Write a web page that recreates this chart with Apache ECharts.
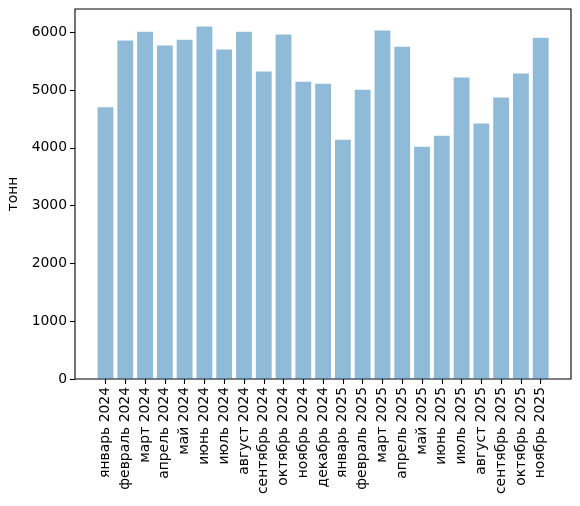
<!DOCTYPE html>
<html>
<head>
<meta charset="utf-8">
<script src="https://cdn.jsdelivr.net/npm/echarts@6/dist/echarts.min.js"></script>
<style>
  html, body { margin: 0; padding: 0; background: #fff; }
  #chart { width: 580px; height: 506px; }
</style>
</head>
<body>
<div id="chart"></div>
<script>
// месяцы
var months = [
    'январь 2024', 'февраль 2024', 'март 2024', 'апрель 2024', 'май 2024', 'июнь 2024',
    'июль 2024', 'август 2024', 'сентябрь 2024', 'октябрь 2024', 'ноябрь 2024', 'декабрь 2024',
    'январь 2025', 'февраль 2025', 'март 2025', 'апрель 2025', 'май 2025', 'июнь 2025',
    'июль 2025', 'август 2025', 'сентябрь 2025', 'октябрь 2025', 'ноябрь 2025'
];
// объём, тонн
var tonnes = [
    4700, 5855, 6010, 5770, 5870, 6100,
    5700, 6010, 5320, 5960, 5145, 5110,
    4140, 5005, 6030, 5750, 4020, 4210,
    5215, 4420, 4870, 5285, 5905
];
var yMax = 6402;
var yStep = 1000;

var font = 'DejaVu Sans';
var myChart = echarts.init(document.getElementById('chart'));

var option = {
    backgroundColor: '#fff',
    animation: false,
    grid: [
        // рамка и ось Y
        {left: 75, right: 9, top: 9, bottom: 127, show: true,
         borderColor: '#000', borderWidth: 1.1, outerBoundsMode: 'none'},
        // столбцы (с отступами как в matplotlib)
        {left: 95.6, right: 29.4, top: 9, bottom: 127, outerBoundsMode: 'none'}
    ],
    xAxis: [
        {gridIndex: 0, type: 'value', show: false},
        {
            gridIndex: 1,
            type: 'category',
            data: months,
            axisLine: {show: false},
            axisTick: {show: true, alignWithLabel: true, length: 5,
                       lineStyle: {color: '#000', width: 1.1}},
            axisLabel: {rotate: 90, interval: 0, margin: 8, color: '#000',
                        fontFamily: font, fontSize: 13.9}
        }
    ],
    yAxis: [
        {
            gridIndex: 0,
            type: 'value',
            min: 0,
            max: yMax,
            interval: yStep,
            name: 'тонн',
            nameLocation: 'middle',
            nameGap: 42,
            nameTextStyle: {color: '#000', fontFamily: font, fontSize: 13.9},
            axisLine: {show: false},
            axisTick: {show: true, length: 5, lineStyle: {color: '#000', width: 1.1}},
            axisLabel: {color: '#000', fontFamily: font, fontSize: 13.9, margin: 8,
                        showMaxLabel: false,
                        formatter: function (v) { return String(v); }},
            splitLine: {show: false}
        },
        {gridIndex: 1, type: 'value', min: 0, max: yMax, show: false}
    ],
    series: [{
        type: 'bar',
        xAxisIndex: 1,
        yAxisIndex: 1,
        data: tonnes,
        barCategoryGap: '20%',
        itemStyle: {color: 'rgba(31,119,180,0.5)'}
    }]
};
myChart.setOption(option);
</script>
</body>
</html>
